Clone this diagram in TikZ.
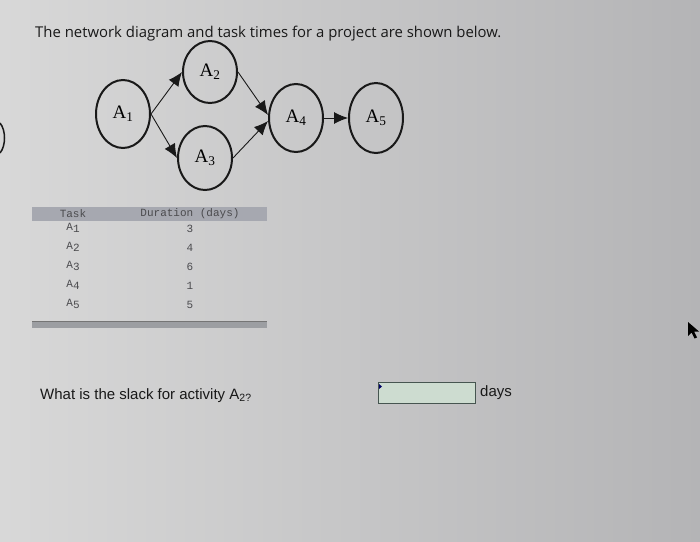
\documentclass[tikz,border=0pt]{standalone}
\usepackage{fontspec}
\setmainfont{Liberation Serif}
\newfontfamily\titlefont{Open Sans}
\newfontfamily\qfont{Liberation Sans}
\newfontfamily\tabfont{Liberation Mono}
\usetikzlibrary{shapes.geometric,arrows.meta}
\definecolor{bgleft}{RGB}{216,216,216}
\definecolor{bgright}{RGB}{180,180,182}
\definecolor{headgray}{RGB}{166,168,176}
\definecolor{bargray}{RGB}{156,158,162}
\definecolor{boxfill}{RGB}{205,220,208}
\definecolor{boxedge}{RGB}{70,85,80}
\definecolor{ink}{RGB}{25,25,25}
\definecolor{tabink}{RGB}{75,75,78}
\tikzset{
  evt/.style={ellipse, draw=ink, line width=2pt, minimum width=54pt, minimum height=68pt, inner sep=0pt, font=\fontsize{19}{19}\selectfont},
  link/.style={draw=ink, line width=0.9pt, -{Latex[length=14pt,width=12pt]}},
  tab/.style={font=\tabfont\fontsize{11}{11}\selectfont, text=tabink, inner sep=0pt},
  title/.style={font=\titlefont\fontsize{14.9}{15}\selectfont, text=ink, inner sep=0pt, anchor=base west},
  q/.style={font=\qfont\fontsize{15}{15}\selectfont, text=ink, inner sep=0pt, anchor=base west}
}
\begin{document}
\begin{tikzpicture}[x=1pt,y=-1pt]
\useasboundingbox (0,0) rectangle (700,541);
\shade[left color=bgleft, right color=bgright] (0,0) rectangle (700,541);
% title
\node[title] (title) at (35,37) {The network diagram and task times for a project are shown below.};
% network
\node[evt] (a1) at (123,114) {A\textsubscript{1}};
\node[evt, minimum height=62pt] (a2) at (210,72) {A\textsubscript{2}};
\node[evt, minimum height=64pt] (a3) at (205,158) {A\textsubscript{3}};
\node[evt] (a4) at (296,118) {A\textsubscript{4}};
\node[evt, minimum height=70pt] (a5) at (376,118) {A\textsubscript{5}};
\draw[link] (a1.east) -- (a2.west);
\draw[link] (a1.east) -- (a3.west);
\draw[link] (a2.east) -- ([yshift=3pt]a4.west);
\draw[link] (a3.east) -- ([yshift=-3pt]a4.west);
\draw[link] (a4.east) -- (a5.west);
% table
\fill[headgray] (32,207) rectangle (267,221);
\node[tab] (th1) at (73,214) {Task};
\node[tab] (th2) at (190,214) {Duration (days)};
\node[tab] (t1) at (73,228) {A\raisebox{-2pt}{1}};
\node[tab] (t2) at (73,247) {A\raisebox{-2pt}{2}};
\node[tab] (t3) at (73,266) {A\raisebox{-2pt}{3}};
\node[tab] (t4) at (73,285) {A\raisebox{-2pt}{4}};
\node[tab] (t5) at (73,304) {A\raisebox{-2pt}{5}};
\node[tab] (d1) at (190,229) {3};
\node[tab] (d2) at (190,248) {4};
\node[tab] (d3) at (190,267) {6};
\node[tab] (d4) at (190,286) {1};
\node[tab] (d5) at (190,305) {5};
\fill[bargray] (32,321) rectangle (267,328);
\draw[ink!60, line width=0.6pt] (32,321) -- (267,321);
% question
\node[q] (qq) at (40,399) {What is the slack for activity A\textsubscript{2?}};
\draw[boxedge, line width=1pt, fill=boxfill] (378,382) rectangle (475,403);
\fill[blue!40!black] (379,384) -- (382,386.5) -- (379,389) -- cycle;
\node[q] (days) at (480,396) {days};
% cursor
\fill[black] (688,322) -- (688,336) -- (691.5,332.5) -- (694.5,338.5) -- (697,337.5) -- (694,331.5) -- (699,331.5) -- cycle;
% partial arc at left edge
\draw[ink, line width=1.5pt] (0,123) .. controls (6,130) and (6,146) .. (0,153);
\end{tikzpicture}
\end{document}
